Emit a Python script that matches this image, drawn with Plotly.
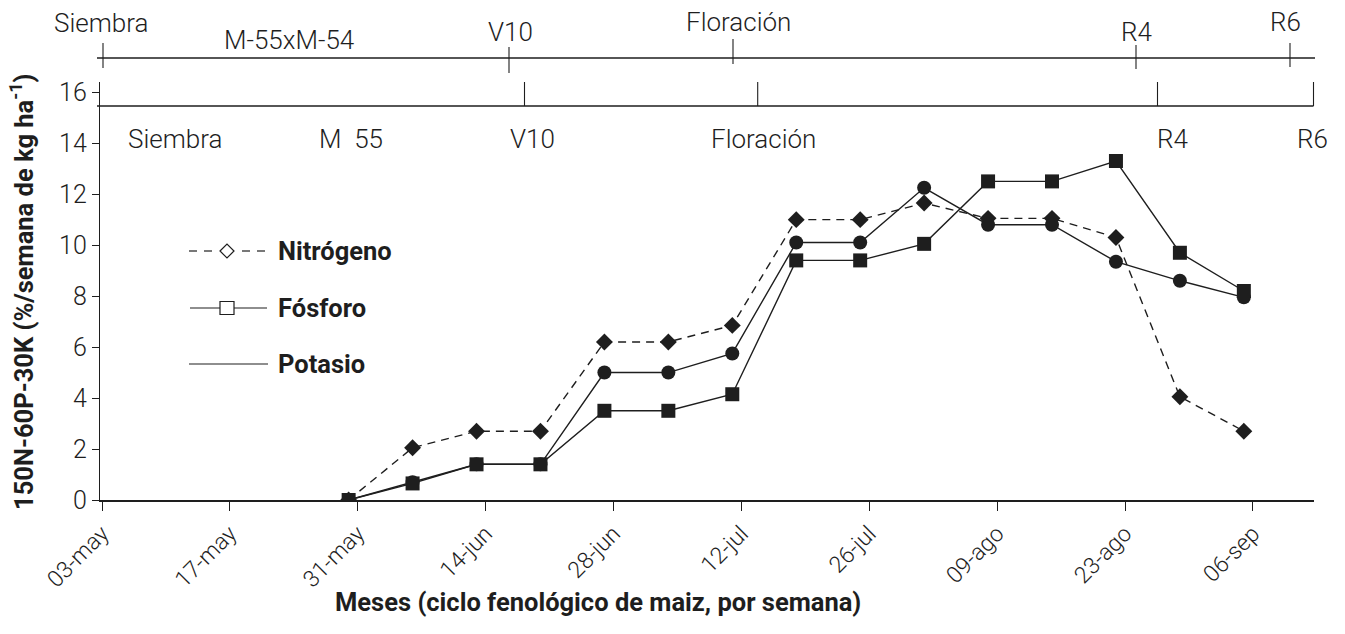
import plotly.graph_objects as go

# ---------------- data ----------------
fechas = ["2019-05-30", "2019-06-06", "2019-06-13", "2019-06-20", "2019-06-27",
          "2019-07-04", "2019-07-11", "2019-07-18", "2019-07-25", "2019-08-01",
          "2019-08-08", "2019-08-15", "2019-08-22", "2019-08-29", "2019-09-05"]
nitrogeno = [0, 2.05, 2.7, 2.7, 6.2, 6.2, 6.85, 11.0, 11.0, 11.65, 11.05, 11.05, 10.3, 4.05, 2.7]
fosforo = [0, 0.65, 1.4, 1.4, 3.5, 3.5, 4.15, 9.4, 9.4, 10.05, 12.5, 12.5, 13.3, 9.7, 8.2]
potasio = [0, 0.7, 1.4, 1.4, 5.0, 5.0, 5.75, 10.1, 10.1, 12.25, 10.8, 10.8, 9.35, 8.6, 7.95]

tick_fechas = ["2019-05-03", "2019-05-17", "2019-05-31", "2019-06-14", "2019-06-28",
               "2019-07-12", "2019-07-26", "2019-08-09", "2019-08-23", "2019-09-06"]
tick_textos = ["03-may", "17-may", "31-may", "14-jun", "28-jun",
               "12-jul", "26-jul", "09-ago", "23-ago", "06-sep"]
y_ticks = [0, 2, 4, 6, 8, 10, 12, 14, 16]

etapas_sup = ["Siembra", "M-55xM-54", "V10", "Floración", "R4", "R6"]
etapas_inf = ["Siembra", "M\u00a0 55", "V10", "Floración", "R4", "R6"]
series_nombres = ["Nitrógeno", "Fósforo", "Potasio"]

# ---------------- layout geometry ----------------
W, H = 1345, 634
ML, MR, MT, MB = 100, 31, 82, 134
PW = W - ML - MR
PH = H - MT - MB


def px(xp):
    return (xp - ML) / PW


def py(yp):
    return (MT + PH - yp) / PH


INK = "#1e1e1e"
FONT = "Roboto"
LABEL_SIZE = 26
XTICK_SIZE = 23
YTICK_SIZE = 25
BOLD_SIZE = 25.5

fig = go.Figure()

fig.add_trace(go.Scatter(
    x=fechas, y=nitrogeno, mode="lines+markers", name=series_nombres[0],
    line=dict(color=INK, width=1.4, dash="8px,6px"),
    marker=dict(symbol="diamond", size=13, color=INK), showlegend=False))
fig.add_trace(go.Scatter(
    x=fechas, y=potasio, mode="lines+markers", name=series_nombres[2],
    line=dict(color=INK, width=1.4),
    marker=dict(symbol="circle", size=14, color=INK), showlegend=False))
fig.add_trace(go.Scatter(
    x=fechas, y=fosforo, mode="lines+markers", name=series_nombres[1],
    line=dict(color=INK, width=1.4),
    marker=dict(symbol="square", size=14, color=INK), showlegend=False))

shapes = []
annotations = []

# ---- upper phenology timeline (above plot) ----
up_line_y = 58
shapes.append(dict(type="line", xref="paper", yref="paper",
                   x0=px(97), x1=px(1315), y0=py(up_line_y), y1=py(up_line_y),
                   line=dict(color=INK, width=1.3)))
for xp, (y0p, y1p) in zip([103, 509, 733, 1136, 1290],
                          [(43, 68), (47, 73), (39, 64), (45, 69), (43, 67)]):
    shapes.append(dict(type="line", xref="paper", yref="paper",
                       x0=px(xp), x1=px(xp), y0=py(y0p), y1=py(y1p),
                       line=dict(color=INK, width=1.1)))
for txt, xp, yp in zip(etapas_sup, [101, 289, 510, 738, 1136, 1285],
                       [23, 40, 32, 22, 32, 22]):
    annotations.append(dict(text=txt, xref="paper", yref="paper",
                            x=px(xp), y=py(yp), xanchor="center", yanchor="middle",
                            showarrow=False,
                            font=dict(family=FONT, size=LABEL_SIZE, color=INK, weight=300)))

# ---- lower phenology timeline (inside plot) ----
lo_line_y = 106
shapes.append(dict(type="line", xref="paper", yref="paper",
                   x0=px(97), x1=px(1313.5), y0=py(lo_line_y), y1=py(lo_line_y),
                   line=dict(color=INK, width=1.3)))
for xp in [524.5, 757.7, 1157.5, 1313.5]:
    shapes.append(dict(type="line", xref="paper", yref="paper",
                       x0=px(xp), x1=px(xp), y0=py(82), y1=py(lo_line_y),
                       line=dict(color=INK, width=1.1)))
for txt, xp in zip(etapas_inf, [175, 351, 532, 763, 1172, 1312]):
    annotations.append(dict(text=txt, xref="paper", yref="paper",
                            x=px(xp), y=py(139), xanchor="center", yanchor="middle",
                            showarrow=False,
                            font=dict(family=FONT, size=LABEL_SIZE, color=INK, weight=300)))

# ---- manual legend ----
leg_rows = [251, 308, 364]
for i, (name, yp) in enumerate(zip(series_nombres, leg_rows)):
    if i == 0:
        for a, b in [(189, 197), (204, 212), (242, 250), (257, 265)]:
            shapes.append(dict(type="line", xref="paper", yref="paper",
                               x0=px(a), x1=px(b), y0=py(yp), y1=py(yp),
                               line=dict(color=INK, width=1.2)))
        cx = 227
        shapes.append(dict(type="path", xref="paper", yref="paper",
                           path=(f"M {px(cx-7)},{py(yp)} L {px(cx)},{py(yp-7)} "
                                 f"L {px(cx+7)},{py(yp)} L {px(cx)},{py(yp+7)} Z"),
                           line=dict(color=INK, width=1.2), fillcolor="white"))
    elif i == 1:
        shapes.append(dict(type="line", xref="paper", yref="paper",
                           x0=px(190), x1=px(267), y0=py(yp), y1=py(yp),
                           line=dict(color=INK, width=1.2)))
        cx = 227
        shapes.append(dict(type="rect", xref="paper", yref="paper",
                           x0=px(cx - 7), x1=px(cx + 7), y0=py(yp - 6.5), y1=py(yp + 6.5),
                           line=dict(color=INK, width=1.2), fillcolor="white"))
    else:
        shapes.append(dict(type="line", xref="paper", yref="paper",
                           x0=px(189), x1=px(268), y0=py(yp), y1=py(yp),
                           line=dict(color=INK, width=1.2)))
    annotations.append(dict(text=name, xref="paper", yref="paper",
                            x=px(276), y=py(yp), xanchor="left", yanchor="middle",
                            showarrow=False,
                            font=dict(family=FONT, size=BOLD_SIZE, color=INK, weight=700)))

# ---- axis titles ----
annotations.append(dict(text="Meses (ciclo fenológico de maiz, por semana)",
                        xref="paper", yref="paper", x=px(598), y=py(602),
                        xanchor="center", yanchor="middle", showarrow=False,
                        font=dict(family=FONT, size=BOLD_SIZE, color=INK, weight=700)))
annotations.append(dict(text="150N-60P-30K (%/semana de kg ha<sup>-1</sup>)",
                        xref="paper", yref="paper", x=px(22), y=py(292),
                        xanchor="center", yanchor="middle", textangle=-90,
                        showarrow=False,
                        font=dict(family=FONT, size=BOLD_SIZE, color=INK, weight=700)))

fig.update_layout(
    width=W, height=H,
    margin=dict(l=ML, r=MR, t=MT, b=MB),
    paper_bgcolor="white", plot_bgcolor="white",
    showlegend=False,
    shapes=shapes, annotations=annotations,
    xaxis=dict(type="date", range=["2019-05-02 18:45", "2019-09-12 16:20"],
               tickmode="array", tickvals=tick_fechas, ticktext=tick_textos,
               tickangle=-45, ticks="outside", ticklen=9, tickwidth=1.2, tickcolor=INK,
               showline=True, linecolor=INK, linewidth=2, showgrid=False, zeroline=False,
               tickfont=dict(family=FONT, size=XTICK_SIZE, color=INK, weight=300)),
    yaxis=dict(range=[0, 16.4], tickmode="array", tickvals=y_ticks,
               ticks="outside", ticklen=7, tickwidth=1.2, tickcolor=INK,
               showline=True, linecolor=INK, linewidth=1.3, showgrid=False, zeroline=False,
               tickfont=dict(family=FONT, size=YTICK_SIZE, color=INK, weight=300)),
)

fig.write_html("out.html")
